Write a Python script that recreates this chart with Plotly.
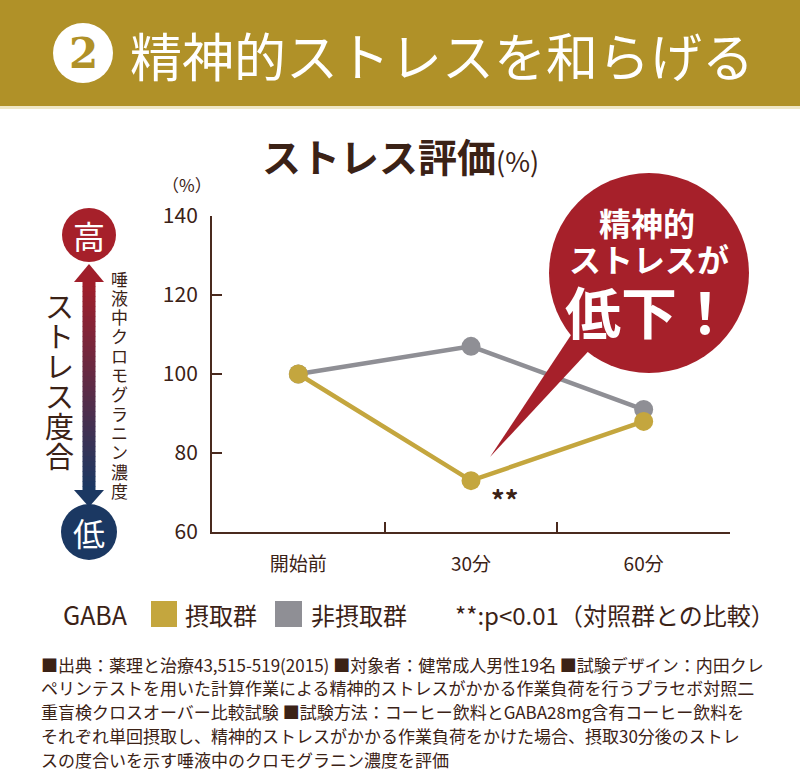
import plotly.graph_objects as go

# ---------------- data ----------------
categories = ["開始前", "30分", "60分"]
gaba_values = [100, 73, 88]        # GABA 摂取群
control_values = [100, 107, 91]    # 非摂取群
y_ticks = [60, 80, 100, 120, 140]
y_tick_labels = ["60", "80", "100", "120", "140"]

title_text = "精神的ストレスを和らげる"
chart_title = "ストレス評価"
footnote_lines = [
    "■出典：薬理と治療43,515-519(2015) ■対象者：健常成人男性19名 ■試験デザイン：内田クレ",
    "ペリンテストを用いた計算作業による精神的ストレスがかかる作業負荷を行うプラセボ対照二",
    "重盲検クロスオーバー比較試験 ■試験方法：コーヒー飲料とGABA28mg含有コーヒー飲料を",
    "それぞれ単回摂取し、精神的ストレスがかかる作業負荷をかけた場合、摂取30分後のストレ",
    "スの度合いを示す唾液中のクロモグラニン濃度を評価",
]

# ---------------- layout constants ----------------
W, H = 800, 771
ML, MR, MT, MB = 212, 70, 216, 239
PW = W - ML - MR
PH = H - MT - MB

GOLD_BAND = "#b09128"
GOLD = "#c4a63e"
GRAY = "#8f8f95"
BROWN = "#3b2216"
RED = "#a6202a"
NAVY = "#1b3862"
FONT = "Noto Sans CJK JP"


def px(x):
    return (x - ML) / PW


def py(y):
    return (H - MB - y) / PH


def label(x, y, text, size, color=BROWN, family=FONT, xanchor="center"):
    return dict(xref="paper", yref="paper", x=px(x), y=py(y), text=text, showarrow=False,
                xanchor=xanchor, yanchor="middle",
                font=dict(family=family, size=size, color=color))


fig = go.Figure()
fig.add_trace(go.Scatter(
    x=categories, y=control_values, mode="lines+markers", name="非摂取群",
    line=dict(color=GRAY, width=4.5), marker=dict(size=19, color=GRAY),
    cliponaxis=False, showlegend=False,
))
fig.add_trace(go.Scatter(
    x=categories, y=gaba_values, mode="lines+markers", name="摂取群",
    line=dict(color=GOLD, width=4.5), marker=dict(size=19, color=GOLD),
    cliponaxis=False, showlegend=False,
))

shapes = []
annotations = []

# header band
shapes.append(dict(type="rect", xref="paper", yref="paper", x0=px(0), x1=px(W),
                   y0=py(0), y1=py(106), fillcolor=GOLD_BAND, line_width=0, layer="below"))
shapes.append(dict(type="rect", xref="paper", yref="paper", x0=px(0), x1=px(W),
                   y0=py(106), y1=py(109), fillcolor="#efe7c6", line_width=0, layer="below"))
shapes.append(dict(type="circle", xref="paper", yref="paper", x0=px(53), x1=px(113),
                   y0=py(23), y1=py(83), fillcolor="white", line_width=0))
annotations.append(label(83, 54, "<b>2</b>", 42, GOLD_BAND, "DejaVu Serif"))
annotations.append(label(128, 55, title_text, 52, "white", xanchor="left"))

# chart title
annotations.append(label(400, 155, f"<b>{chart_title}</b><span style='font-size:27px'>(%)</span>", 39))
# y unit
annotations.append(label(187, 185, "（%）", 17))

# left indicator: circles
CX = 89
shapes.append(dict(type="circle", xref="paper", yref="paper", x0=px(CX - 27), x1=px(CX + 27),
                   y0=py(235 - 27), y1=py(235 + 27), fillcolor=RED, line_width=0))
shapes.append(dict(type="circle", xref="paper", yref="paper", x0=px(CX - 28), x1=px(CX + 28),
                   y0=py(532 - 28), y1=py(532 + 28), fillcolor=NAVY, line_width=0))
annotations.append(label(CX, 235, "高", 32, "white"))
annotations.append(label(CX, 532, "低", 32, "white"))

# gradient double arrow
top_rgb = (160, 30, 42)
bot_rgb = (27, 56, 98)
y_start, y_end = 281, 491
n = 42
for i in range(n):
    t = i / (n - 1)
    c = tuple(int(round(top_rgb[k] + (bot_rgb[k] - top_rgb[k]) * t)) for k in range(3))
    ya = y_start + (y_end - y_start) * i / n
    yb = y_start + (y_end - y_start) * (i + 1) / n + 0.6
    shapes.append(dict(type="rect", xref="paper", yref="paper", x0=px(CX - 6.5), x1=px(CX + 6.5),
                       y0=py(ya), y1=py(yb), fillcolor="rgb(%d,%d,%d)" % c, line_width=0))
shapes.append(dict(type="path", xref="paper", yref="paper",
                   path=f"M {px(CX-15)} {py(282)} L {px(CX+15)} {py(282)} L {px(CX)} {py(264)} Z",
                   fillcolor="rgb(%d,%d,%d)" % top_rgb, line_width=0))
shapes.append(dict(type="path", xref="paper", yref="paper",
                   path=f"M {px(CX-15)} {py(490)} L {px(CX+15)} {py(490)} L {px(CX)} {py(507)} Z",
                   fillcolor="rgb(%d,%d,%d)" % bot_rgb, line_width=0))

# vertical texts
for i, ch in enumerate("ストレス度合"):
    annotations.append(label(59, 305 + 30 * i, ch, 29))
for i, ch in enumerate("唾液中クロモグラニン濃度"):
    annotations.append(label(119, 278 + 19.3 * i, ch, 17))

# callout bubble
BX, BY, BR = 649, 273, 100
shapes.append(dict(type="path", xref="paper", yref="paper",
                   path=f"M {px(490)} {py(457)} L {px(577)} {py(326)} L {px(597)} {py(342)} Z",
                   fillcolor=RED, line_width=0))
shapes.append(dict(type="circle", xref="paper", yref="paper", x0=px(BX - BR), x1=px(BX + BR),
                   y0=py(BY - BR), y1=py(BY + BR), fillcolor=RED, line_width=0))
annotations.append(label(647, 222, "<b>精神的</b>", 32, "white"))
annotations.append(label(649, 258, "<b>ストレスが</b>", 32, "white"))
annotations.append(label(649, 309, "<b>低下！</b>", 56, "white"))

# significance mark
annotations.append(dict(xref="x", yref="y", x=categories[1], y=gaba_values[1], text="<b>**</b>",
                        xshift=33, yshift=-19, showarrow=False, xanchor="center", yanchor="middle",
                        font=dict(family=FONT, size=27, color=BROWN)))

# legend row
LY = 614
annotations.append(label(61, LY, "GABA", 25, xanchor="left"))
shapes.append(dict(type="rect", xref="paper", yref="paper", x0=px(151), x1=px(177),
                   y0=py(LY - 13), y1=py(LY + 13), fillcolor=GOLD, line_width=0))
annotations.append(label(183, LY, "摂取群", 24, xanchor="left"))
shapes.append(dict(type="rect", xref="paper", yref="paper", x0=px(275), x1=px(302),
                   y0=py(LY - 13), y1=py(LY + 13), fillcolor=GRAY, line_width=0))
annotations.append(label(309, LY, "非摂取群", 24, xanchor="left"))
annotations.append(label(453, LY, "**:p<0.01（対照群との比較）", 24, xanchor="left"))

# footnotes
for i, line in enumerate(footnote_lines):
    annotations.append(label(39, 664 + 23.8 * i, line, 17, xanchor="left"))

fig.update_layout(
    width=W, height=H,
    margin=dict(l=ML, r=MR, t=MT, b=MB),
    paper_bgcolor="white", plot_bgcolor="white",
    shapes=shapes, annotations=annotations,
    font=dict(family=FONT, color=BROWN),
    xaxis=dict(type="category", categoryorder="array", categoryarray=categories,
               range=[-0.5, 2.5], tickson="boundaries", ticks="inside", ticklen=10, tickwidth=2,
               tickcolor="#4a2a1e", showline=True, linecolor="#4a2a1e", linewidth=2,
               showgrid=False, zeroline=False, ticklabelstandoff=14,
               tickfont=dict(family=FONT, size=19, color=BROWN), fixedrange=True),
    yaxis=dict(range=[60, 140], tickvals=y_ticks, ticktext=y_tick_labels, ticks="inside",
               ticklen=10, tickwidth=2, tickcolor="#4a2a1e", showline=True, linecolor="#4a2a1e",
               linewidth=2, showgrid=False, zeroline=False, ticklabelstandoff=8,
               tickfont=dict(family=FONT, size=21, color=BROWN), fixedrange=True),
)

fig.write_html(
    "out.html",
    config={"displayModeBar": False},
    post_script="document.body.style.margin='0px';document.body.style.overflow='hidden';",
)
